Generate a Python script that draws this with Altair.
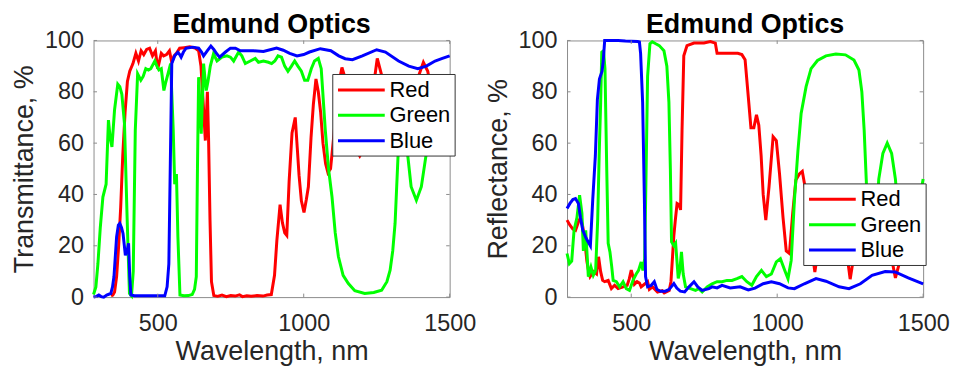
import altair as alt
import pandas as pd

SERIES = ["Red", "Green", "Blue"]
COLORS = ["#ff0000", "#00ff00", "#0000ff"]
X_TICKS = [500, 1000, 1500]
Y_TICKS = [0, 20, 40, 60, 80, 100]
X_DOMAIN = [280, 1500]
Y_DOMAIN = [0, 100]
TITLE = "Edmund Optics"
X_TITLE = "Wavelength, nm"
T_TITLE = "Transmittance, %"
R_TITLE = "Reflectance, %"

# Transmittance (wavelength nm, %)
T_RED = [(340, 0.5), (346, 0.8), (352, 2), (359, 8), (366, 20), (373, 35), (380, 55), (388, 72), (396, 84),
         (404, 88), (415, 91), (425, 95), (434, 92), (443, 96), (452, 94.5), (462, 96.5), (472, 97), (482, 94),
         (492, 96), (500, 89), (506, 92), (512, 95), (520, 94), (530, 94.5), (540, 96), (548, 91.5), (556, 94),
         (564, 95), (575, 97), (590, 97.2), (610, 97.5), (628, 97), (640, 96), (648, 90), (656, 75), (663, 61),
         (670, 80), (674, 62), (679, 30), (684, 6), (692, 0.6), (705, 0.3), (720, 0.8), (735, 0.2), (750, 0.6),
         (765, 0.4), (780, 0.9), (790, 0.2), (805, 0.5), (820, 0.3), (840, 0.6), (860, 0.4), (875, 0.8), (889, 1),
         (900, 8.5), (908, 22), (919, 36), (927, 29), (935, 25), (942, 24), (950, 45), (960, 64), (971, 70),
         (978, 58), (984, 47.5), (992, 37.5), (1001, 33), (1009, 38), (1016, 43), (1025, 62), (1033, 75),
         (1042, 85), (1050, 80), (1058, 72), (1066, 60), (1075, 52), (1083, 48.5), (1092, 50), (1104, 64),
         (1118, 82), (1131, 89.5), (1140, 86), (1155, 72), (1172, 59), (1192, 55), (1212, 59), (1234, 78),
         (1252, 93), (1268, 86), (1288, 70), (1318, 60), (1345, 61), (1368, 72), (1390, 85), (1410, 91.5),
         (1425, 88), (1445, 75), (1470, 62), (1500, 58)]
T_GREEN = [(280, 1), (288, 4), (295, 13), (303, 27), (312, 39), (323, 44), (331, 69), (337, 62), (343, 58.5),
           (352, 73), (363, 83), (370, 82), (377, 79), (386, 67.5), (395, 31), (403, 1.4), (410, 0.5), (416, 10),
           (423, 65), (431, 87), (442, 84.5), (450, 86), (459, 89), (468, 88.5), (476, 89), (490, 92), (497, 90),
           (504, 88.5), (512, 89), (521, 80.5), (528, 84), (535, 87), (544, 91), (553, 65), (558, 44), (564, 48),
           (569, 23.5), (576, 0.8), (590, 0.5), (605, 0.6), (618, 1), (626, 3), (632, 8), (636, 50), (640, 85.7),
           (645, 74), (649, 63.7), (657, 91), (662, 85), (666, 80.5), (672, 84), (680, 90), (691, 94.8),
           (703, 92), (720, 93.5), (737, 94), (749, 93.5), (760, 92), (777, 95.5), (788, 94), (800, 91),
           (817, 92), (834, 93), (845, 91.5), (862, 92), (879, 91.5), (890, 91), (901, 92), (912, 94),
           (924, 93.5), (935, 90), (946, 88), (958, 90), (969, 92), (980, 90), (992, 88), (1003, 84.5),
           (1014, 84.5), (1026, 89), (1037, 92), (1050, 93), (1060, 89), (1074, 65), (1085, 50), (1097, 39),
           (1108, 25), (1119, 15.7), (1135, 8.5), (1153, 5.3), (1175, 2.5), (1209, 1.4), (1240, 1.8),
           (1267, 2.7), (1285, 6), (1296, 10.5), (1305, 18), (1313, 28.7), (1323, 54.6), (1332, 72), (1340, 70),
           (1350, 60), (1357, 54.6), (1368, 43), (1386, 37.7), (1403, 43), (1420, 56), (1440, 75), (1460, 84),
           (1480, 78), (1500, 64)]
T_BLUE = [(280, 0), (290, 0.3), (298, 0.8), (306, 0.2), (315, 0), (325, 0.8), (339, 1.4), (345, 4), (350, 8),
          (359, 23.5), (365, 28), (370, 28.7), (376, 27), (381, 24.8), (389, 16.3), (395, 18), (400, 21),
          (404, 8), (408, 0.8), (420, 0.5), (450, 0.5), (480, 0.5), (510, 0.5), (524, 0.5), (532, 4), (538, 13),
          (543, 52), (548, 91), (558, 94), (569, 95.4), (575, 94.5), (580, 93.5), (588, 95.5), (597, 97),
          (620, 97.4), (640, 97), (650, 95.5), (657, 94), (670, 96), (682, 97.8), (692, 96.5), (702, 94.8),
          (712, 93.5), (732, 95.5), (749, 97), (766, 97), (783, 96), (828, 96), (862, 95.7), (907, 97),
          (930, 96.2), (952, 95), (977, 94), (1000, 94.5), (1020, 95.5), (1057, 96.8), (1093, 96), (1120, 94),
          (1142, 92.9), (1167, 92.5), (1201, 94), (1250, 96.4), (1280, 95.5), (1325, 92), (1360, 90),
          (1391, 89), (1420, 90), (1450, 92), (1475, 93), (1500, 94)]

# Reflectance (wavelength nm, %)
R_RED = [(280, 30), (290, 28), (300, 26.5), (309, 26), (319, 29.3), (326, 31), (333, 28), (339, 24), (348, 14),
         (354, 10), (359, 8), (370, 10), (381, 9), (388, 15.7), (395, 10), (402, 6.5), (409, 6), (421, 6.5),
         (432, 3.3), (443, 4.6), (455, 3.3), (472, 4), (486, 4.6), (493, 7), (500, 10.5), (506, 8), (511, 5),
         (520, 6), (528, 5.5), (534, 4), (545, 5), (556, 6), (562, 3), (573, 4), (590, 2), (606, 2.5),
         (613, 1.6), (630, 2.6), (636, 6), (646, 24), (651, 30), (657, 36.5), (664, 36), (669, 34), (674, 65),
         (680, 94), (691, 98), (715, 99), (749, 99), (771, 99.6), (788, 99), (794, 95), (820, 95), (839, 95),
         (865, 95), (879, 94.5), (890, 92.5), (901, 78), (910, 66), (920, 66), (929, 71), (937, 67), (945, 55),
         (952, 40), (961, 30), (972, 43), (986, 62.5), (997, 61), (1008, 48), (1020, 31), (1031, 18),
         (1042, 17), (1053, 32.5), (1064, 45.6), (1076, 48), (1086, 49), (1100, 40), (1115, 22), (1129, 9.8),
         (1145, 22), (1165, 36), (1190, 42), (1215, 36), (1235, 20), (1250, 7), (1268, 20), (1295, 35),
         (1325, 40), (1355, 37), (1380, 22), (1405, 7.5), (1425, 16), (1455, 32), (1480, 38), (1500, 40)]
R_GREEN = [(280, 17), (288, 13), (296, 14), (304, 26), (314, 31), (323, 39.7), (331, 32.6), (336, 18), (344, 26),
           (353, 8), (362, 11.7), (370, 8.5), (378, 10.4), (385, 30), (390, 55), (395, 75), (399, 95.4),
           (405, 96), (410, 89), (416, 50), (421, 21), (427, 17.6), (433, 12), (438, 6.5), (449, 6), (460, 4),
           (472, 6), (483, 3.3), (494, 2.6), (506, 6.5), (517, 9), (525, 10.4), (534, 13.7), (540, 10.4),
           (546, 15), (551, 50), (556, 86), (564, 98.7), (572, 99.5), (584, 98.7), (596, 98), (612, 96),
           (622, 90), (629, 76), (634, 50), (638, 21.5), (646, 20), (652, 21), (661, 7.3), (666, 10),
           (672, 17.6), (678, 9), (686, 4), (703, 3.3), (720, 2.6), (731, 3.3), (743, 2), (760, 4), (777, 5.2),
           (794, 6), (811, 6), (828, 6.5), (845, 6.5), (862, 7.2), (879, 8), (896, 6), (913, 4.6), (929, 8),
           (946, 10.4), (963, 8), (980, 9), (997, 13.7), (1011, 15), (1026, 10.4), (1037, 7.2), (1048, 14.3),
           (1059, 37.8), (1071, 57), (1082, 71.6), (1099, 82), (1116, 89), (1138, 92.2), (1167, 94),
           (1201, 94.7), (1234, 94.4), (1263, 92.4), (1280, 88.5), (1290, 80), (1298, 65), (1305, 46),
           (1312, 25), (1325, 16), (1336, 25), (1348, 46), (1362, 56), (1377, 60), (1392, 56), (1405, 46),
           (1418, 28), (1435, 17), (1450, 16), (1465, 22), (1480, 33), (1500, 46)]
R_BLUE = [(280, 34.5), (290, 36.5), (300, 38), (309, 38.4), (319, 36.5), (326, 31), (334, 26), (345, 23),
          (355, 21), (360, 20), (368, 37.8), (377, 55), (384, 77), (391, 85), (400, 88), (404, 92), (409, 100),
          (430, 100), (455, 100), (480, 99.8), (500, 99.7), (522, 99.6), (528, 99.4), (532, 95), (539, 76),
          (545, 38), (549, 8), (556, 4), (568, 4.5), (579, 6), (588, 3), (600, 2.3), (617, 2.3), (630, 3),
          (646, 5.3), (656, 3.5), (668, 2.3), (683, 2), (698, 4), (715, 6), (728, 4), (743, 2.6), (766, 3.3),
          (777, 4), (794, 3.6), (811, 4.6), (839, 3.6), (873, 4), (901, 2.8), (924, 3.5), (952, 5.2), (980, 6),
          (1008, 5.2), (1037, 3.6), (1059, 3.3), (1093, 5.2), (1133, 7.2), (1167, 6.2), (1212, 4), (1246, 3.3),
          (1285, 5.2), (1325, 8.5), (1370, 10), (1404, 9.8), (1449, 7.5), (1500, 5.2)]

W, H = 358, 258
FONT = "Liberation Sans"
BOX = "#8c8c8c"
TICK_LEN = 3.5
SYM = 20.5  # legend symbol box (line is drawn longer than the box)

color_scale = alt.Scale(domain=SERIES, range=COLORS)
x_scale = alt.Scale(domain=X_DOMAIN, nice=False, zero=False)
y_scale = alt.Scale(domain=Y_DOMAIN, nice=False, zero=False)


def frame(pairs, name):
    return pd.DataFrame({"nm": [p[0] for p in pairs], "val": [p[1] for p in pairs], "series": name})


def panel(series_list, ytitle, lx, ly):
    legend = alt.Legend(orient="none", legendX=lx, legendY=ly, title=None,
                        symbolType="M-1,0H3.585", symbolSize=SYM * SYM, symbolStrokeWidth=3,
                        labelFontSize=22, labelFont=FONT, labelColor="black", padding=4,
                        strokeColor="#333333", fillColor="white", rowPadding=2.5,
                        labelOffset=29.5, direction="vertical")
    xaxis = alt.Axis(values=X_TICKS, format="d", title=X_TITLE, ticks=False, domain=False, grid=False,
                     labelPadding=14.6, labelFlush=False, titlePadding=3.3)
    yaxis = alt.Axis(values=Y_TICKS, format="d", title=ytitle, ticks=False, domain=False, grid=False,
                     labelPadding=10, titlePadding=6.1)
    layers = []
    for name, pairs in zip(SERIES, series_list):
        layers.append(
            alt.Chart(frame(pairs, name)).mark_line(strokeWidth=3).encode(
                x=alt.X("nm:Q", scale=x_scale, axis=xaxis),
                y=alt.Y("val:Q", scale=y_scale, axis=yaxis),
                color=alt.Color("series:N", scale=color_scale, legend=legend),
            )
        )
    xt = pd.DataFrame({"t": X_TICKS})
    yt = pd.DataFrame({"t": Y_TICKS})
    tick_bottom = alt.Chart(xt).mark_rule(color=BOX, strokeWidth=1).encode(
        x=alt.X("t:Q", scale=x_scale, axis=xaxis), y=alt.value(H - TICK_LEN), y2=alt.value(H))
    tick_top = alt.Chart(xt).mark_rule(color=BOX, strokeWidth=1).encode(
        x=alt.X("t:Q", scale=x_scale, axis=xaxis), y=alt.value(0), y2=alt.value(TICK_LEN))
    tick_left = alt.Chart(yt).mark_rule(color=BOX, strokeWidth=1).encode(
        y=alt.Y("t:Q", scale=y_scale, axis=yaxis), x=alt.value(0), x2=alt.value(TICK_LEN))
    tick_right = alt.Chart(yt).mark_rule(color=BOX, strokeWidth=1).encode(
        y=alt.Y("t:Q", scale=y_scale, axis=yaxis), x=alt.value(W - TICK_LEN), x2=alt.value(W))
    title = alt.Chart(pd.DataFrame({"t": [TITLE]})).mark_text(
        font=FONT, fontSize=27, fontWeight="bold", color="black", align="center", baseline="alphabetic"
    ).encode(text="t:N", x=alt.value(W / 2), y=alt.value(-7.6))
    return alt.layer(*layers, tick_bottom, tick_top, tick_left, tick_right, title).properties(
        width=W, height=H)


left = panel([T_RED, T_GREEN, T_BLUE], T_TITLE, 240, 33.7)
right = panel([R_RED, R_GREEN, R_BLUE], R_TITLE, 237.5, 143.7)

chart = alt.hconcat(left, right, spacing=7).resolve_legend(color="independent").configure_view(
    stroke=BOX, strokeWidth=1
).configure_axis(
    labelFont=FONT, labelFontSize=23.5, labelColor="#262626",
    titleFont=FONT, titleFontSize=27, titleFontWeight="normal", titleColor="#262626",
).properties(padding={"left": 2, "top": 0.7, "right": 0, "bottom": 0}, background="white")

chart.save("out.html", embed_options={"renderer": "svg", "actions": False})
